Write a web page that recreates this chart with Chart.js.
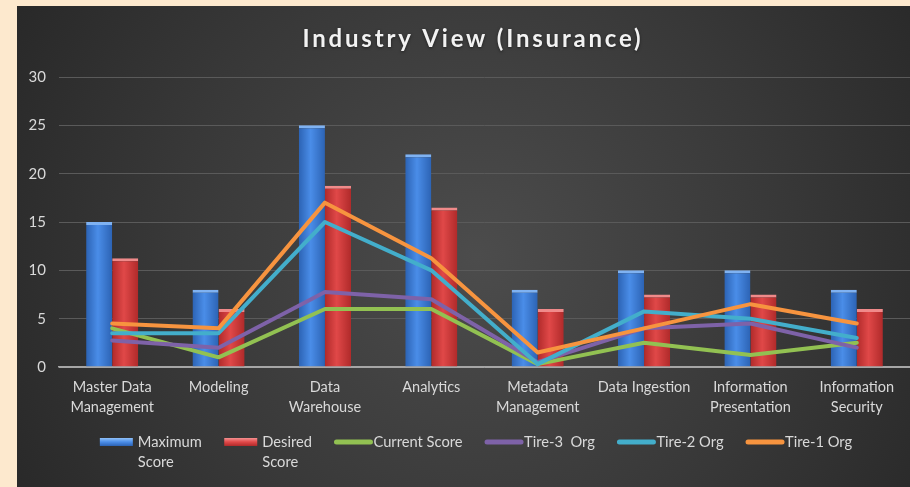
<!DOCTYPE html>
<html><head><meta charset="utf-8">
<script src="https://cdn.jsdelivr.net/npm/chart.js@4.4.0/dist/chart.umd.min.js"></script>
<style>
html,body{margin:0;padding:0;background:#FDE9CE;width:910px;height:487px;overflow:hidden}
#wrap{position:absolute;left:17px;top:6px;width:893px;height:481px}
</style></head><body>
<div id="wrap"><canvas id="c" width="893" height="481"></canvas></div>
<script>
const categories = [["Master Data","Management"],"Modeling",["Data","Warehouse"],"Analytics",["Metadata","Management"],"Data Ingestion",["Information","Presentation"],["Information","Security"]];
const maximumScore = [15, 8, 25, 22, 8, 10, 10, 8];
const desiredScore = [11.25, 6, 18.75, 16.5, 6, 7.5, 7.5, 6];
const currentScore = [4, 1, 6, 6, 0.3, 2.5, 1.25, 2.5];
const tier3Org = [2.75, 2, 7.75, 7, 0.5, 4, 4.5, 2];
const tier2Org = [3.5, 3.5, 15, 10, 0.3, 5.75, 5, 3];
const tier1Org = [4.5, 4, 17, 11.25, 1.5, 4, 6.5, 4.5];
const yTicks = [0, 5, 10, 15, 20, 25, 30];
const chartTitle = 'Industry View (Insurance)';

const FONT = 'Lato';
const CAT_PCT = 0.49;

function barFill(edge, mid, side) {
  return (c) => {
    const chart = c.chart;
    const xs = chart.scales && chart.scales.x;
    if (!chart.chartArea || !xs || c.dataIndex === undefined) return mid;
    const center = xs.getPixelForValue(c.dataIndex);
    const w = xs.width / categories.length * CAT_PCT / 2;
    const x0 = side < 0 ? center - w : center;
    const g = chart.ctx.createLinearGradient(x0, 0, x0 + w, 0);
    g.addColorStop(0, edge);
    g.addColorStop(0.45, mid);
    g.addColorStop(1, edge);
    return g;
  };
}

const bgPlugin = {
  id: 'bg',
  beforeDraw(chart) {
    const {ctx, width, height} = chart;
    ctx.save();
    const g = ctx.createRadialGradient(460, 250, 0, 460, 250, 560);
    g.addColorStop(0, '#4C4C4C');
    g.addColorStop(0.55, '#383838');
    g.addColorStop(1, '#262626');
    ctx.fillStyle = g;
    ctx.fillRect(0, 0, width, height);
    ctx.restore();
  }
};

const titlePlugin = {
  id: 'spacedTitle',
  afterDraw(chart) {
    const ctx = chart.ctx;
    ctx.save();
    ctx.font = 'bold 24px ' + FONT;
    ctx.letterSpacing = '2.8px';
    ctx.textAlign = 'center';
    ctx.textBaseline = 'middle';
    ctx.shadowColor = 'rgba(0,0,0,0.5)';
    ctx.shadowBlur = 3;
    ctx.shadowOffsetY = 1;
    ctx.fillStyle = '#F2F2F2';
    ctx.fillText(chartTitle, 456, 33.5);
    ctx.restore();
  }
};

const legendPlugin = {
  id: 'customLegend',
  afterDraw(chart) {
    const ctx = chart.ctx;
    ctx.save();
    ctx.font = '14.7px ' + FONT;
    ctx.textBaseline = 'middle';
    ctx.textAlign = 'left';
    const items = chart.data.datasets.map(ds => {
      const isBar = ds.type === 'bar';
      const lines = isBar ? ds.label.split(' ') : [ds.label];
      const tw = Math.max(...lines.map(l => ctx.measureText(l).width));
      const mw = isBar ? 33 : 38;
      const gap = isBar ? 5 : 1;
      return {ds, isBar, lines, tw, mw, gap, w: mw + gap + tw};
    });
    const spacing = 22.5;
    const total = items.reduce((a, it) => a + it.w, 0) + spacing * (items.length - 1);
    let x = 459 - total / 2;
    const y = 436;
    items.forEach(it => {
      if (it.isBar) {
        const g = ctx.createLinearGradient(0, y - 4, 0, y + 4);
        g.addColorStop(0, it.ds.legendLight);
        g.addColorStop(0.5, it.ds.legendMid);
        g.addColorStop(1, it.ds.legendDark);
        ctx.fillStyle = g;
        ctx.fillRect(x, y - 4, it.mw, 8);
      } else {
        ctx.strokeStyle = it.ds.borderColor;
        ctx.lineWidth = 5;
        ctx.lineCap = 'round';
        ctx.beginPath();
        ctx.moveTo(x + 2, y);
        ctx.lineTo(x + it.mw - 2, y);
        ctx.stroke();
      }
      ctx.fillStyle = '#D9D9D9';
      it.lines.forEach((l, k) => ctx.fillText(l, x + it.mw + it.gap, y + k * 20));
      x += it.w + spacing;
    });
    ctx.restore();
  }
};

const lineDs = (label, data, color, order) => ({
  type: 'line', label, data, borderColor: color, backgroundColor: color,
  borderWidth: 4, pointRadius: 0, tension: 0, fill: false, order,
  borderJoinStyle: 'round', borderCapStyle: 'round'
});

new Chart(document.getElementById('c'), {
  data: {
    labels: categories,
    datasets: [
      { type: 'bar', label: 'Maximum Score', data: maximumScore,
        backgroundColor: barFill('#2C63B4', '#4A8DE8', -1),
        borderColor: '#7FB2F2', borderWidth: {top: 3, left: 0, right: 0, bottom: 0},
        borderSkipped: 'bottom', order: 10,
        legendLight: '#8FC0F8', legendMid: '#4A8DE8', legendDark: '#2C63B4' },
      { type: 'bar', label: 'Desired Score', data: desiredScore,
        backgroundColor: barFill('#B02A2A', '#E04848', 1),
        borderColor: '#F08A8A', borderWidth: {top: 3, left: 0, right: 0, bottom: 0},
        borderSkipped: 'bottom', order: 10,
        legendLight: '#F49090', legendMid: '#E04848', legendDark: '#B02A2A' },
      lineDs('Current Score', currentScore, '#92C152', 5),
      lineDs('Tire-3  Org', tier3Org, '#7E62A8', 4),
      lineDs('Tire-2 Org', tier2Org, '#43AECB', 3),
      lineDs('Tire-1 Org', tier1Org, '#F7943F', 2)
    ]
  },
  options: {
    responsive: false,
    devicePixelRatio: 1,
    animation: false,
    layout: { padding: { left: 0, right: 0, top: 71, bottom: 60 } },
    datasets: { bar: { categoryPercentage: CAT_PCT, barPercentage: 1 } },
    plugins: {
      legend: { display: false },
      tooltip: { enabled: false },
      title: { display: false }
    },
    scales: {
      x: {
        grid: { display: false, drawTicks: false },
        border: { display: true, color: '#A6A6A6', width: 1.5 },
        ticks: { color: '#D9D9D9', font: { family: FONT, size: 14.5, lineHeight: '20px' }, padding: 10, maxRotation: 0, autoSkip: false }
      },
      y: {
        min: 0, max: 30,
        afterBuildTicks: (s) => { s.ticks = yTicks.map(v => ({value: v})); },
        afterFit: (s) => { s.width = 42; },
        grid: { color: (c) => c.tick && c.tick.value === 0 ? '#A6A6A6' : '#5A5A5A', lineWidth: 1, drawTicks: false },
        border: { display: false },
        ticks: { color: '#D9D9D9', font: { family: FONT, size: 15 }, padding: 13 }
      }
    }
  },
  plugins: [bgPlugin, titlePlugin, legendPlugin]
});
</script>
</body></html>
